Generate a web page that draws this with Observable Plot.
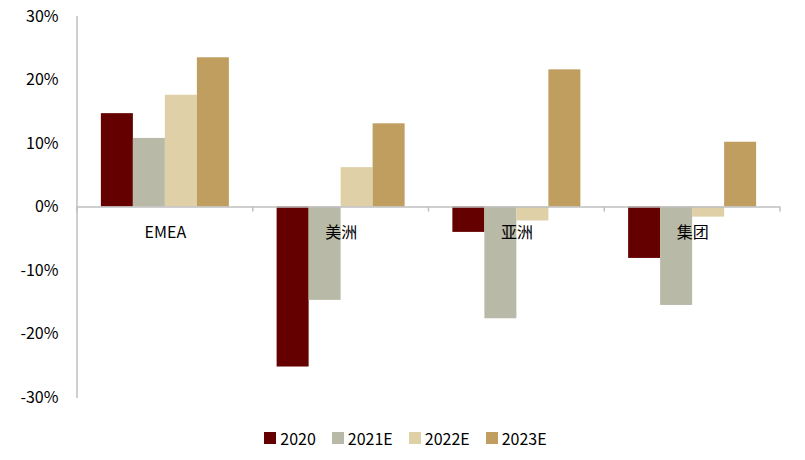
<!DOCTYPE html>
<html>
<head>
<meta charset="utf-8">
<script src="https://cdn.jsdelivr.net/npm/d3@7"></script>
<script src="https://cdn.jsdelivr.net/npm/@observablehq/plot@0.6"></script>
<style>
  body { margin: 0; background: #fff; font-family: "Noto Sans CJK SC", "Noto Sans", sans-serif; }
  #legend { display: flex; justify-content: center; align-items: center; height: 36px; font-size: 16px; color: #000; padding-left: 6px; }
  .item { display: flex; align-items: center; margin: 0 8px; }
  .sw { width: 12px; height: 12px; margin-right: 4px; }
</style>
</head>
<body>
<div id="chart"></div>
<div id="legend"></div>
<script>
const categories = ["EMEA", "美洲", "亚洲", "集团"];
const series = ["2020", "2021E", "2022E", "2023E"];
const colors = ["#640000", "#b9b9a7", "#dfd0a7", "#c09e60"];
const v2020  = [14.7, -25.2, -4.0, -8.1];
const v2021E = [10.8, -14.7, -17.6, -15.5];
const v2022E = [17.6, 6.2, -2.2, -1.6];
const v2023E = [23.5, 13.1, 21.6, 10.2];
const yTicks = [30, 20, 10, 0, -10, -20, -30];

const valuesBySeries = [v2020, v2021E, v2022E, v2023E];
const data = [];
categories.forEach((c, i) => series.forEach((s, j) => data.push({category: c, series: s, value: valuesBySeries[j][i]})));

const chart = Plot.plot({
  width: 805,
  height: 420,
  marginLeft: 77,
  marginRight: 25,
  marginTop: 16,
  marginBottom: 23,
  style: {fontFamily: '"Noto Sans CJK SC", "Noto Sans", sans-serif', fontSize: "16px", color: "#000", background: "#fff"},
  fx: {domain: categories, padding: 0, round: false, axis: null},
  x: {domain: series, paddingInner: 0, paddingOuter: 0.746, round: false, axis: null},
  y: {domain: [-30, 30], ticks: yTicks, tickFormat: d => d + "%", tickSize: 0, tickPadding: 19, label: null},
  color: {domain: series, range: colors},
  marks: [
    Plot.barY(data, {fx: "category", x: "series", y: "value", fill: "series"}),
    Plot.ruleY([0], {stroke: "#bfbfbf", strokeWidth: 1.5}),
    Plot.text(categories, {fx: d => d, text: d => d, y: () => 0, dy: 26, fontSize: 16, fill: "#000"})
  ]
});
document.getElementById("chart").appendChild(chart);

// boundary ticks and left axis line, positioned from the plot's own scales
const fxS = chart.scale("fx");
const yS = chart.scale("y");
const y0 = yS.apply(0);
const bounds = categories.map(c => fxS.apply(c));
bounds.push(fxS.apply(categories[categories.length - 1]) + fxS.bandwidth);
const g = d3.select(chart).append("g").attr("stroke", "#bfbfbf").attr("stroke-width", 1.5);
bounds.forEach(x => g.append("line").attr("x1", x).attr("x2", x).attr("y1", y0).attr("y2", y0 + 5));
g.append("line").attr("x1", bounds[0]).attr("x2", bounds[0]).attr("y1", yS.apply(30)).attr("y2", yS.apply(-30) + 1);

const legend = d3.select("#legend");
series.forEach((s, i) => {
  const it = legend.append("div").attr("class", "item");
  it.append("div").attr("class", "sw").style("background", colors[i]);
  it.append("span").text(s);
});
</script>
</body>
</html>
